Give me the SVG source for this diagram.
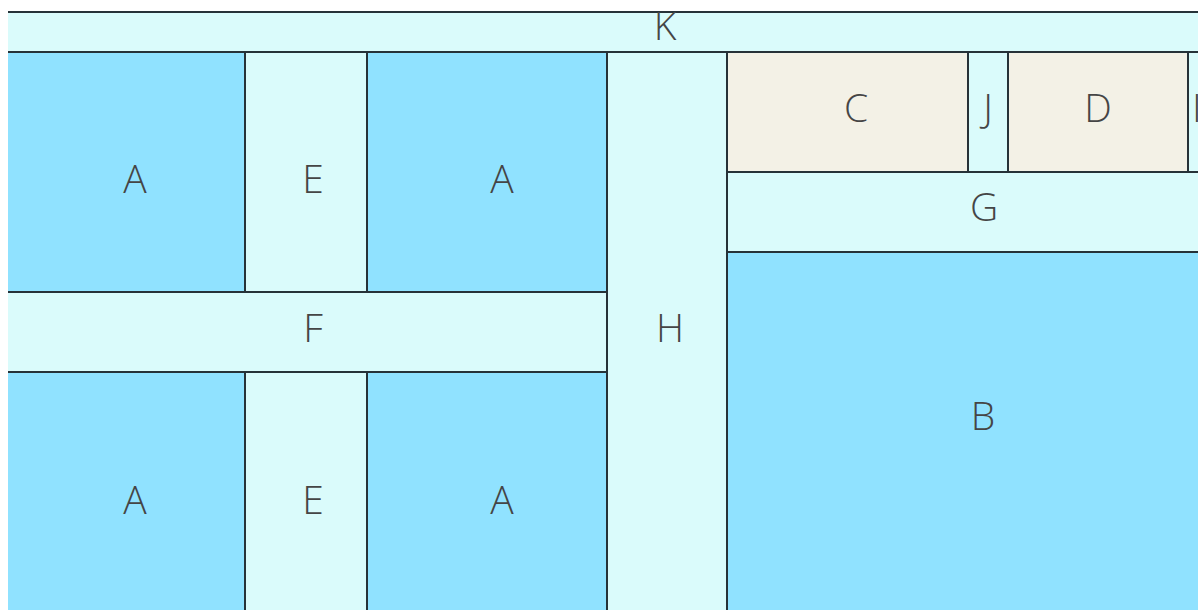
<svg xmlns="http://www.w3.org/2000/svg" width="1198" height="610" viewBox="0 0 1198 610">
<style>
.t{stroke:#263238;stroke-width:2}
.blue{fill:#90E2FF}
.light{fill:#DAFBFB}
.beige{fill:#F3F1E6}
text{font-family:"Open Sans","Noto Sans",sans-serif;font-weight:300;font-size:39px;fill:#454545;text-anchor:middle}
</style>
<defs><clipPath id="c"><rect x="8" y="0" width="1190" height="610"/></clipPath></defs>
<rect width="1198" height="610" fill="#ffffff"/>
<g clip-path="url(#c)">
<g id="K"><rect class="t light" x="-2" y="12" width="1210" height="40"/><text x="665" y="40">K</text></g>
<g id="A1"><rect class="t blue" x="-2" y="52" width="247" height="240"/><text x="135" y="193">A</text></g>
<g id="E1"><rect class="t light" x="245" y="52" width="122" height="240"/><text x="313" y="193">E</text></g>
<g id="A2"><rect class="t blue" x="367" y="52" width="240" height="240"/><text x="502" y="193">A</text></g>
<g id="F"><rect class="t light" x="-2" y="292" width="609" height="80"/><text x="313" y="342">F</text></g>
<g id="A3"><rect class="t blue" x="-2" y="372" width="247" height="250"/><text x="135" y="514">A</text></g>
<g id="E2"><rect class="t light" x="245" y="372" width="122" height="250"/><text x="313" y="514">E</text></g>
<g id="A4"><rect class="t blue" x="367" y="372" width="240" height="250"/><text x="502" y="514">A</text></g>
<g id="H"><rect class="t light" x="607" y="52" width="120" height="570"/><text x="670" y="342">H</text></g>
<g id="C"><rect class="t beige" x="727" y="52" width="241" height="120"/><text x="856" y="122">C</text></g>
<g id="J"><rect class="t light" x="968" y="52" width="40" height="120"/><text x="988" y="122">J</text></g>
<g id="D"><rect class="t beige" x="1008" y="52" width="180" height="120"/><text x="1098" y="122">D</text></g>
<g id="I"><rect class="t light" x="1188" y="52" width="40" height="120"/><text x="1197" y="122">I</text></g>
<g id="G"><rect class="t light" x="727" y="172" width="480" height="80"/><text x="984" y="221">G</text></g>
<g id="B"><rect class="t blue" x="727" y="252" width="480" height="370"/><text x="983" y="430">B</text></g>
</g>
<g id="connectors"></g>
</svg>
